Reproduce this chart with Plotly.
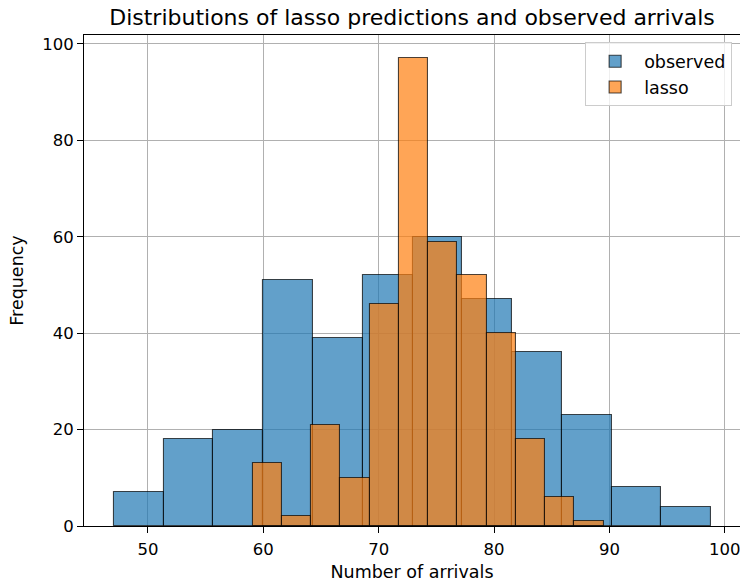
import numpy as np
import plotly.graph_objects as go

# Histogram counts per bin (12 bins each)
observed_counts = [7, 18, 20, 51, 39, 52, 60, 47, 36, 23, 8, 4]
lasso_counts = [13, 2, 21, 10, 46, 97, 59, 52, 40, 18, 6, 1]

# Bin ranges (min and max of the underlying values)
observed_range = (47.05, 98.83)
lasso_range = (59.08, 89.50)

x_ticks = [50, 60, 70, 80, 90, 100]
y_ticks = [0, 20, 40, 60, 80, 100]


def bin_geometry(counts, rng):
    edges = np.linspace(rng[0], rng[1], len(counts) + 1)
    centers = (edges[:-1] + edges[1:]) / 2
    widths = np.diff(edges)
    return centers, widths


FONT = "DejaVu Sans"
TICK_SIZE = 16.5
LABEL_SIZE = 17.5
TITLE_SIZE = 22

fig = go.Figure()

for name, counts, rng, rgb in [
    ("observed", observed_counts, observed_range, "31,119,180"),
    ("lasso", lasso_counts, lasso_range, "255,127,14"),
]:
    centers, widths = bin_geometry(counts, rng)
    fig.add_trace(go.Bar(
        x=centers, y=counts, width=widths, name=name,
        marker=dict(color=f"rgba({rgb},0.7)",
                    line=dict(color="rgba(0,0,0,0.7)", width=1.1)),
    ))

lo = min(observed_range[0], lasso_range[0])
hi = max(observed_range[1], lasso_range[1])
pad = (hi - lo) * 0.05
ymax = max(max(observed_counts), max(lasso_counts)) * 1.05

axis_common = dict(
    showgrid=True, gridcolor="#b0b0b0", gridwidth=0.9,
    showline=True, linecolor="black", linewidth=1.1, mirror=True,
    ticks="outside", ticklen=6, tickcolor="black", tickwidth=1,
    zeroline=False, layer="above traces", ticklabeloverflow="allow",
    tickfont=dict(family=FONT, size=TICK_SIZE, color="black"),
)

fig.update_layout(
    width=740, height=586,
    margin=dict(l=84, r=0, t=35, b=60),
    barmode="overlay", bargap=0,
    plot_bgcolor="white", paper_bgcolor="white",
    title=dict(text="Distributions of lasso predictions and observed arrivals",
               x=0.5, xref="paper", y=1 - 17 / 586, yref="container",
               xanchor="center", yanchor="middle",
               font=dict(family=FONT, size=TITLE_SIZE, color="black")),
    xaxis=dict(range=[lo - pad, lo - pad + 655.6 / 11.53], tickvals=x_ticks,
               ticklabelstandoff=2,
               title=dict(text="Number of arrivals", standoff=7,
                          font=dict(family=FONT, size=LABEL_SIZE, color="black")),
               **axis_common),
    yaxis=dict(range=[0, ymax], tickvals=y_ticks,
               title=dict(text="Frequency", standoff=14,
                          font=dict(family=FONT, size=LABEL_SIZE, color="black")),
               **axis_common),
    legend=dict(x=0.988, y=0.985, xanchor="right", yanchor="top",
                itemwidth=48,
                bgcolor="rgba(255,255,255,0.8)", bordercolor="#cccccc",
                borderwidth=1, font=dict(family=FONT, size=LABEL_SIZE, color="black")),
)

fig.write_html("out.html")
